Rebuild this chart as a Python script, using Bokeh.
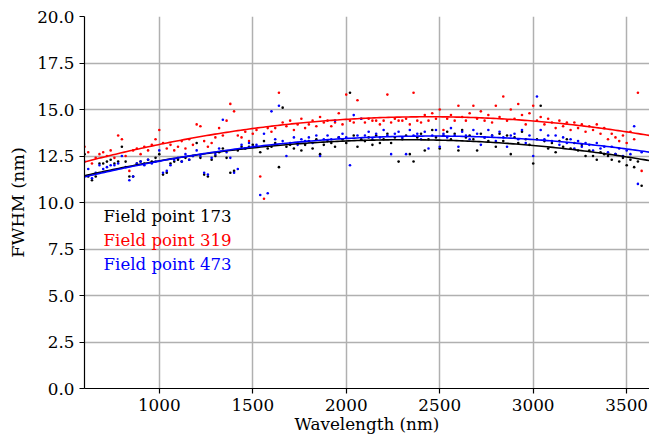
import numpy as np
from bokeh.plotting import figure
from bokeh.models import FixedTicker, NumeralTickFormatter, Label, Range1d
from bokeh.embed import file_html
from bokeh.resources import INLINE

# Sampling wavelengths (nm), 20 nm grid from 600 to 3580
wavelength = np.arange(600, 3600, 20)

fwhm_173 = [
    12.6, 11.4, 11.2, 11.4, 12.1,  12.1, 12.2, 12.3, 12.1, 12.2,
    13.0, 12.2, 11.4, 11.4, 12.1,  12.2, 12.1, 12.3, 12.2, 12.4,
    12.6, 11.5, 11.6, 12.1, 12.2,  12.3, 12.2, 12.4, 12.3, 12.5,
    13.2, 12.4, 11.5, 11.4, 12.3,  12.5, 12.7, 12.9, 12.4, 11.6,
    11.7, 12.8, 13.0, 12.9, 13.0,  13.1, 13.0, 12.7, 13.3, 12.9,
    13.0, 13.2, 11.9, 15.1, 13.0,  13.1, 12.9, 13.2, 12.8, 13.1,
    13.3, 12.9, 13.4, 12.6, 13.1,  13.3, 13.2, 13.0, 13.5, 13.4,
    13.2, 15.9, 13.6, 13.0, 13.4,  13.3, 13.5, 13.1, 13.6, 13.2,
    13.4, 13.7, 13.2, 13.5, 12.2,  13.4, 13.6, 12.6, 12.2, 13.5,
    13.7, 12.8, 13.4, 13.9, 13.5,  12.9, 13.6, 13.8, 13.4, 13.7,
    12.8, 13.9, 13.5, 13.6, 13.4,  12.8, 13.7, 13.5, 13.3, 13.6,
    13.0, 13.7, 13.3, 13.6, 12.6,  13.5, 13.2, 13.8, 13.4, 13.1,
    12.1, 13.4, 15.2, 13.3, 12.9,  13.2, 12.7, 13.3, 13.0, 13.4,
    12.9, 13.2, 12.8, 13.1, 12.5,  12.8, 12.5, 12.3, 12.7, 12.6,
    12.5, 12.3, 12.6, 12.2, 12.4,  12.0, 12.3, 11.9, 12.2, 10.9,
]

fwhm_319 = [
    13.0, 12.7, 12.1, 12.4, 12.6,  12.7, 12.5, 12.8, 12.4, 13.6,
    13.4, 12.5, 11.7, 12.8, 12.9,  12.6, 13.0, 12.8, 13.1, 13.4,
    13.9, 13.2, 12.9, 13.1, 12.8,  13.0, 13.3, 12.9, 13.4, 13.1,
    14.2, 14.1, 13.3, 13.0, 13.2,  13.5, 14.0, 13.6, 14.4, 15.3,
    14.9, 13.6, 13.5, 13.8, 13.3,  13.7, 13.9, 11.4, 10.2, 14.0,
    13.8, 14.0, 15.9, 14.3, 14.1,  14.4, 13.9, 14.2, 14.5, 14.0,
    14.2, 14.4, 14.1, 14.6, 14.3,  14.4, 14.1, 14.3, 14.8, 14.2,
    15.8, 14.4, 14.3, 15.5, 14.5,  14.3, 14.5, 14.4, 14.4, 14.2,
    14.4, 15.8, 14.3, 14.5, 14.4,  14.4, 14.5, 14.2, 15.9, 14.4,
    14.3, 14.7, 14.4, 14.8, 14.5,  15.0, 13.9, 14.5, 14.7, 14.4,
    15.2, 14.6, 14.4, 14.8, 15.2,  14.5, 14.9, 14.4, 14.7, 14.3,
    15.2, 14.6, 15.7, 14.4, 15.0,  14.5, 15.3, 14.7, 14.2, 14.8,
    15.2, 14.4, 14.6, 14.2, 14.5,  14.3, 14.0, 14.4, 14.1, 14.3,
    13.9, 14.3, 14.0, 14.2, 13.8,  14.1, 13.9, 14.2, 13.7, 14.0,
    13.4, 13.7, 13.5, 13.3, 13.6,  13.2, 13.8, 13.4, 15.9, 11.7,
]

fwhm_473 = [
    12.2, 11.8, 11.3, 11.6, 12.0,  11.8, 11.9, 12.0, 12.0, 12.1,
    12.5, 11.9, 11.2, 11.4, 12.1,  12.2, 12.0, 12.3, 12.1, 12.2,
    12.8, 11.6, 11.7, 12.0, 12.3,  12.4, 12.2, 12.6, 12.3, 12.5,
    12.8, 12.5, 11.6, 11.5, 12.4,  12.6, 12.9, 14.45, 12.7, 12.4,
    11.6, 11.8, 13.1, 12.9, 13.2,  13.0, 13.1, 10.4, 13.7, 10.5,
    14.9, 13.4, 15.2, 13.3, 12.5,  13.2, 13.5, 13.1, 13.4, 13.3,
    13.5, 13.2, 13.6, 12.5, 13.4,  13.6, 13.4, 14.4, 13.5, 13.7,
    13.5, 12.0, 14.7, 13.6, 14.5,  13.6, 13.8, 13.4, 13.7, 13.5,
    13.9, 13.6, 12.6, 13.7, 13.8,  13.5, 12.6, 13.9, 13.6, 13.7,
    13.4, 13.8, 12.9, 13.6, 13.9,  13.0, 13.7, 13.5, 14.0, 13.6,
    13.0, 13.8, 13.6, 13.4, 13.9,  13.7, 13.1, 13.5, 13.9, 13.6,
    13.3, 13.8, 13.5, 13.0, 13.6,  13.7, 13.4, 13.9, 13.2, 13.6,
    12.5, 15.7, 13.9, 13.4, 13.6,  13.3, 13.6, 13.1, 13.5, 13.2,
    13.4, 12.9, 13.3, 13.0, 13.2,  13.1, 12.8, 13.2, 12.9, 13.0,
    12.7, 13.0, 12.6, 12.9, 12.5,  12.8, 12.6, 14.1, 11.0, 12.7,
]

series_labels = ["Field point 173", "Field point 319", "Field point 473"]
series_colors = ["black", "red", "blue"]
y_ticks = [0.0, 2.5, 5.0, 7.5, 10.0, 12.5, 15.0, 17.5, 20.0]
x_ticks = [1000, 1500, 2000, 2500, 3000, 3500]

FONT = "DejaVu Serif"

p = figure(width=649, height=438, output_backend="svg", toolbar_location=None,
           x_range=Range1d(600, 3622), y_range=Range1d(0, 20),
           min_border_left=84, min_border_right=0, min_border_top=16,
           min_border_bottom=50)
p.outline_line_color = None

p.xaxis.ticker = FixedTicker(ticks=x_ticks)
p.yaxis.ticker = FixedTicker(ticks=y_ticks)
p.yaxis.formatter = NumeralTickFormatter(format="0.0")
p.xaxis.axis_label = "Wavelength (nm)"
p.yaxis.axis_label = "FWHM (nm)"
for ax in (p.xaxis, p.yaxis):
    ax.axis_label_text_font = FONT
    ax.axis_label_text_font_style = "normal"
    ax.axis_label_text_color = "black"
    ax.major_label_text_font = FONT
    ax.major_label_text_font_size = "16.8px"
    ax.major_label_text_color = "black"
    ax.axis_line_color = "black"
    ax.axis_line_width = 1.2
    ax.major_tick_line_color = "black"
    ax.major_tick_line_width = 1.2
    ax.major_tick_out = 5
    ax.major_tick_in = 0
    ax.minor_tick_line_color = None
p.xaxis.axis_label_text_font_size = "16.8px"
p.yaxis.axis_label_text_font_size = "17.5px"
p.xaxis.major_label_standoff = 5
p.xaxis.axis_label_standoff = 0
p.yaxis.major_label_standoff = 5
p.yaxis.axis_label_standoff = 6

p.grid.grid_line_color = "#b0b0b0"
p.grid.grid_line_width = 1.5

for ys, color in zip([fwhm_173, fwhm_319, fwhm_473], series_colors):
    p.scatter(wavelength, ys, size=2.6, color=color, line_color=None)

for ys, color in zip([fwhm_173, fwhm_319, fwhm_473], series_colors):
    coef = np.polyfit(wavelength, ys, 2)
    xs = np.linspace(600, 3622, 200)
    p.line(xs, np.polyval(coef, xs), color=color, line_width=1.6)

label_y = [9.27, 7.95, 6.65]
for text, color, ly in zip(series_labels, series_colors, label_y):
    p.add_layout(Label(x=702, y=ly, text=text, text_color=color,
                       text_font=FONT, text_font_size="16.6px",
                       text_baseline="alphabetic"))

open("out.html", "w").write(file_html(p, INLINE))
